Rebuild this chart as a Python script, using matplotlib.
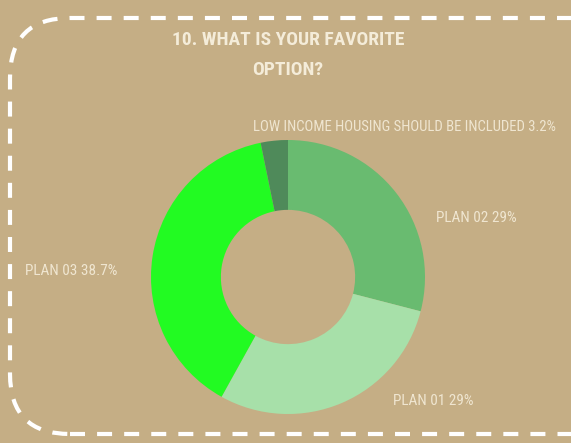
import matplotlib
matplotlib.use("Agg")
import matplotlib.pyplot as plt
from matplotlib.patches import FancyBboxPatch

# Survey results
categories = ["PLAN 02", "PLAN 01", "PLAN 03", "LOW INCOME HOUSING SHOULD BE INCLUDED"]
values = [29, 29, 38.7, 3.2]
value_labels = ["29%", "29%", "38.7%", "3.2%"]
colors = ["#69bb70", "#a7e0a9", "#22fb22", "#4f8a5a"]
title = "10. WHAT IS YOUR FAVORITE\nOPTION?"

BG = "#c5ae85"
TXT = "#f4ecd9"
W, H = 571, 443

fig = plt.figure(figsize=(W / 100, H / 100), dpi=100, facecolor=BG)
ax = fig.add_axes([0, 0, 1, 1])
ax.set_facecolor(BG)

# donut (pixel coordinates, y measured from the bottom)
cx, cy, r = 288, H - 277, 137
ax.pie(values, colors=colors, startangle=90, counterclock=False,
       center=(cx, cy), radius=r, frame=True,
       wedgeprops=dict(width=r * 0.51, linewidth=0))

ax.set_xlim(0, W)
ax.set_ylim(0, H)
ax.set_aspect("equal")
ax.set_axis_off()

# dashed rounded frame, running off the right edge
frame = FancyBboxPatch((10, H - 434), 700, 416,
                       boxstyle="round,pad=0,rounding_size=60",
                       fill=False, edgecolor="white", linewidth=3.0,
                       linestyle=(0, (3.6, 2.9)), capstyle="butt")
ax.add_patch(frame)

font = ["Roboto Condensed", "DejaVu Sans"]

ax.text(288, H - 55, title, ha="center", va="center", color=TXT,
        fontsize=14, family=font, fontweight="bold",
        fontstretch="condensed", linespacing=1.85)

label_pos = [(436, H - 218), (393, H - 401), (25, H - 271), (253, H - 127)]
label_size = [11, 11, 11, 10.6]
for (x, y), fs, cat, val in zip(label_pos, label_size, categories, value_labels):
    ax.text(x, y, f"{cat} {val}", ha="left", va="center", color=TXT,
            fontsize=fs, family=font, fontstretch="condensed", alpha=0.9)

fig.savefig("out.png", dpi=100, facecolor=BG)
